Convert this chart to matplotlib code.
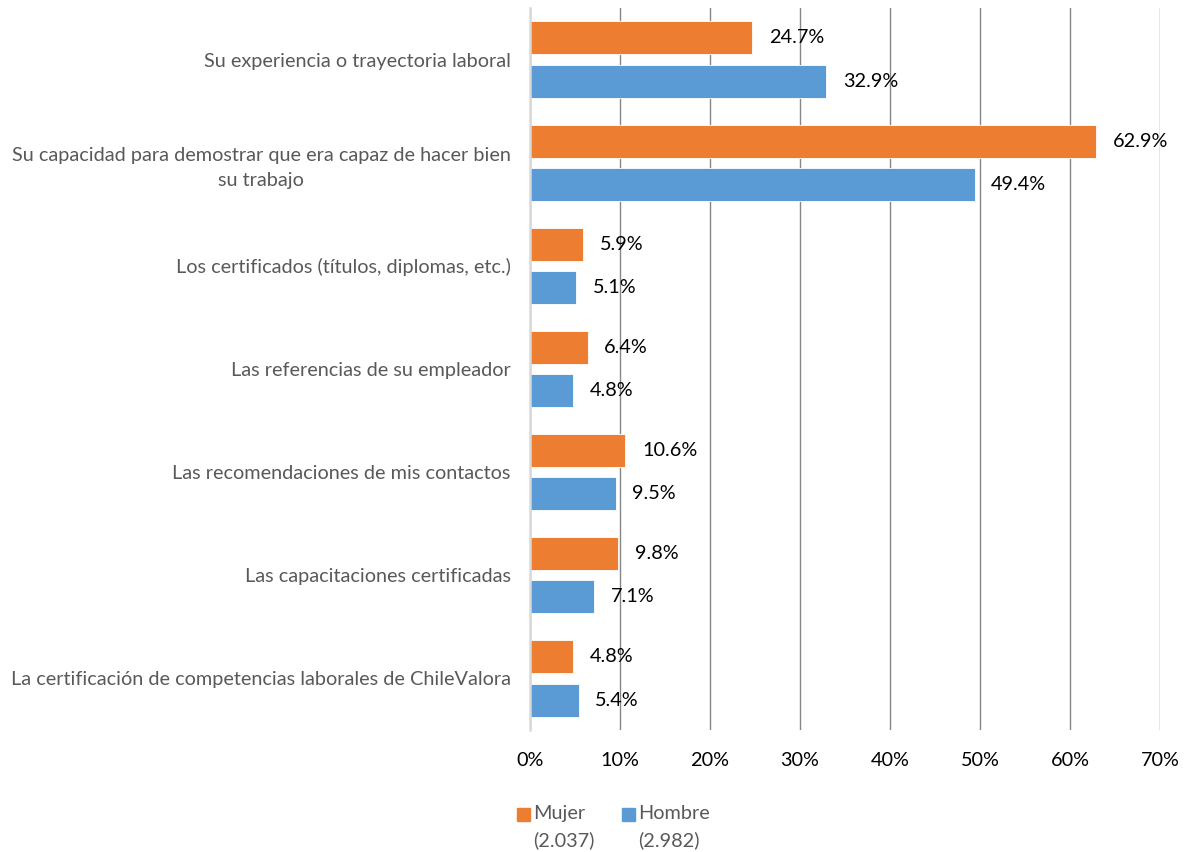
import matplotlib

matplotlib.use("Agg")
import matplotlib.pyplot as plt
from matplotlib.patches import Rectangle
import numpy as np

plt.rcParams["font.family"] = ["Lato", "DejaVu Sans"]

categories = [
    "Su experiencia o trayectoria laboral",
    "Su capacidad para demostrar que era capaz de hacer bien\nsu trabajo",
    "Los certificados (títulos, diplomas, etc.)",
    "Las referencias de su empleador",
    "Las recomendaciones de mis contactos",
    "Las capacitaciones certificadas",
    "La certificación de competencias laborales de ChileValora",
]
mujer = [24.7, 62.9, 5.9, 6.4, 10.6, 9.8, 4.8]
hombre = [32.9, 49.4, 5.1, 4.8, 9.5, 7.1, 5.4]
series_names = ["Mujer\n(2.037)", "Hombre\n(2.982)"]
x_ticks = [0, 10, 20, 30, 40, 50, 60, 70]

ORANGE = "#ED7D31"
BLUE = "#5B9BD5"
FS = 14.3

fig = plt.figure(figsize=(11.85, 8.52), dpi=100)
fig.patch.set_facecolor("white")
ax = fig.add_axes([530 / 1185, 1 - 730 / 852, 630 / 1185, 722 / 852])

y = np.arange(len(categories))
bh = 0.32
off = 0.21
b1 = ax.barh(y - off, mujer, height=bh, color=ORANGE, edgecolor="white", linewidth=0.6, zorder=3)
b2 = ax.barh(y + off, hombre, height=bh, color=BLUE, edgecolor="white", linewidth=0.6, zorder=3)

for bars, vals in ((b1, mujer), (b2, hombre)):
    for bar, v in zip(bars, vals):
        ax.annotate(f"{v:.1f}%", (v, bar.get_y() + bar.get_height() / 2),
                    xytext=(12, 0), textcoords="offset points",
                    ha="left", va="center", fontsize=FS, color="black")

ax.set_xlim(0, 70)
ax.set_ylim(len(categories) - 0.5, -0.5)
ax.set_xticks(x_ticks)
ax.set_xticklabels([f"{t}%" for t in x_ticks], fontsize=FS, color="black")
ax.set_yticks(y)
ax.set_yticklabels(categories, fontsize=FS, color="#595959")
for lab in ax.get_yticklabels():
    lab.set_multialignment("center")
    lab.set_linespacing(1.55)
ax.tick_params(axis="both", length=0)
ax.tick_params(axis="y", pad=14)
ax.tick_params(axis="x", pad=16)

ax.xaxis.grid(True, color="#868686", linewidth=1.0, zorder=0)
for s in ("top", "right", "bottom"):
    ax.spines[s].set_visible(False)
ax.spines["left"].set_color("#D9D9D9")
ax.spines["left"].set_linewidth(1.8)
ax.spines["left"].set_zorder(4)

# legend drawn by hand so the swatch sits on the first text line
for x0, col, name in ((517, ORANGE, series_names[0]), (622, BLUE, series_names[1])):
    fig.add_artist(Rectangle((x0 / 1185, 1 - 821 / 852), 13 / 1185, 13 / 852,
                             transform=fig.transFigure, color=col))
    fig.text((x0 + 16) / 1185, 1 - 805 / 852, name, fontsize=FS, color="#595959",
             ha="left", va="top", linespacing=1.6)

fig.savefig("out.png", dpi=100)
